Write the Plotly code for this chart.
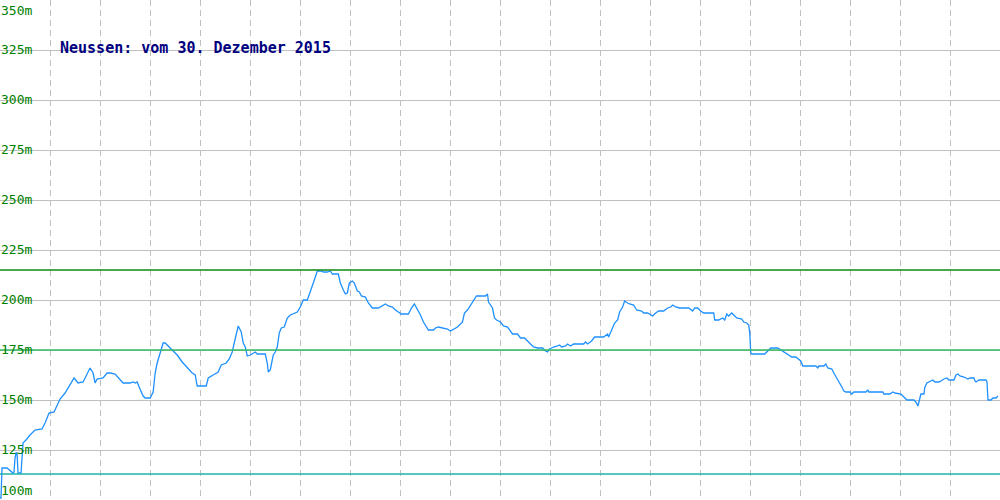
import plotly.graph_objects as go

# distance (chart units) and elevation (m)
dist = [0,1,2,7,13,14,15,16,17,18,21,22,23,26,30,35,42,45,49,54,57,60,65,68,72,74,78,83,86,90,93,95,97,103,107,110,115,118,123,130,133,135,137,139,143,145,150,153,155,157,160,163,165,172,177,182,187,192,195,197,206,208,213,218,221,226,229,232,234,236,238,241,243,245,247,250,255,257,265,267,268,270,273,275,277,279,281,284,287,290,295,297,300,303,307,310,313,317,321,323,327,330,332,338,340,343,345,347,349,352,354,357,359,361,365,368,372,378,382,385,388,392,395,398,401,408,411,414,417,420,423,426,428,433,435,438,442,447,450,453,457,462,464,467,470,473,476,485,487,488,492,494,496,500,503,507,510,512,517,520,524,527,530,533,537,542,545,547,549,553,557,559,561,565,567,570,573,583,585,587,591,594,603,607,608,612,614,617,619,622,624,627,629,633,636,641,643,647,652,655,658,663,667,670,672,675,679,688,692,694,697,700,703,713,714,718,722,724,726,728,731,733,736,741,743,746,748,749,750,751,764,767,770,777,780,784,787,791,795,800,802,815,817,818,823,825,827,831,833,836,838,841,843,845,849,851,853,865,867,868,882,883,889,892,894,900,903,906,913,915,917,918,920,923,924,926,928,932,934,938,940,943,946,948,953,955,957,959,963,965,967,969,973,974,975,978,985,986,987,990,992,995,997]
elev = [101,101,116,116,113.5,114,121,123.5,123.5,113.5,113.5,125,128.5,130,132.5,135,135.5,138.5,143.5,144,147,150.5,153.5,156,159.5,161,158.5,159,162,166,163.5,158.5,160.5,161,163.5,163.5,163,161.5,158.5,158.5,159,158.5,159,156.5,152,151,151,154,163.5,168.5,173.5,178.5,178.5,175,172.5,169,166,163.5,162.5,157,157,161,162.5,164,167.5,168.5,170.5,174,178.5,182.5,187,184,178.5,176.5,172,172.5,174,173,173,168.5,164,165,172.5,174,176.5,183.5,186,186.5,191,192.5,193.5,194,196.5,200,200,204,208.5,214.5,214.5,214,214,214.5,213,213,208.5,205,203,203.5,208.5,209.5,208.5,204.5,204,202,201.5,198.5,196,196,197,198,197,196.5,195,194,193,193,196,198,195.5,192.5,189,186.5,185,185,186,186.5,186,185.5,184.5,185.5,186.5,189,193.5,195,197.5,200,202,202,203,199,196,191,190,189,187,186.5,184,183,183,181,181,179.5,178,176.5,176,176,174.5,174,175.5,176.5,177,177.5,176.5,177,178,177,178,178,179,178,179.5,181.5,181.5,183,181.5,186.5,188.5,190,194,196.5,199.5,198.5,198,197.5,195,194.5,193.5,193.5,192,193.5,194.5,194.5,196,196.5,197.5,196.5,196,196,194.5,196,196,194.5,193.5,193.5,190,190,191,190,193,192,193.5,192.5,191,190.5,189,188.5,187.5,183.5,173.5,173,173,174.5,176,176,175,174,173,171.5,171.5,169.5,167,167,166,167,167,168,166,165.5,163.5,161,159.5,156.5,154.5,154,154,153,154,154,155,154,154,153,153,154,153.5,153,151.5,150,150,149,147,149.5,153,153,156.5,158.5,159,160,159,159,159.5,160.5,161,160,160,162.5,163,162,161.5,161,160.5,161,161,159.5,159,160,160,159,150,150,151,151,152]

# reference levels (m)
level_max = 215
level_mid = 175
level_min = 113

tick_vals = [100, 125, 150, 175, 200, 225, 250, 275, 300, 325, 350]
tick_text = ["100m", "125m", "150m", "175m", "200m", "225m", "250m", "275m", "300m", "325m", "350m"]
vgrid_vals = [50, 100, 150, 200, 250, 300, 350, 400, 450, 500, 550, 600, 650, 700, 750, 800, 850, 900, 950]

title_text = "Neussen: vom 30. Dezember 2015"

fig = go.Figure()
fig.add_trace(go.Scatter(x=dist, y=elev, mode="lines",
                         line=dict(color="#1e90ff", width=1.3), hoverinfo="skip",
                         showlegend=False))

for lvl, col in [(level_max, "#118811"), (level_mid, "#33bb66"), (level_min, "#20b2aa")]:
    fig.add_hline(y=lvl, line=dict(color=col, width=1.3), layer="above")

anns = []
for v, t in zip(tick_vals, tick_text):
    if v == 350:
        ya = "top"; yshift = -1
    elif v == 100:
        ya = "bottom"; yshift = 0
    else:
        ya = "middle"; yshift = 1
    anns.append(dict(x=0, xref="paper", y=v, yref="y", text=t, showarrow=False,
                     xanchor="left", yanchor=ya, yshift=yshift, xshift=-1,
                     font=dict(family="DejaVu Sans Mono", size=13, color="#008000")))
anns.append(dict(x=60, xref="x", y=325, yref="y", text="<b>" + title_text + "</b>",
                 showarrow=False, xanchor="left", yanchor="middle", yshift=2, xshift=-2,
                 font=dict(family="DejaVu Sans Mono", size=15, color="#000080")))

fig.update_layout(
    width=1000, height=500,
    margin=dict(l=0, r=0, t=0, b=0, pad=0, autoexpand=False),
    paper_bgcolor="white", plot_bgcolor="white",
    annotations=anns,
    xaxis=dict(range=[0, 999], tickvals=vgrid_vals, showticklabels=False,
               showgrid=True, gridcolor="#c0c0c0", griddash="6px,4px", gridwidth=1,
               zeroline=False, showline=True, linecolor="#c0c0c0", linewidth=2, mirror=True,
               fixedrange=True, automargin=False),
    yaxis=dict(range=[100, 350], tickvals=tick_vals, showticklabels=False,
               showgrid=True, gridcolor="#c0c0c0", gridwidth=1,
               zeroline=False, showline=True, linecolor="#c0c0c0", linewidth=2, mirror=True,
               fixedrange=True, automargin=False),
)

fig.write_html("out.html", config={"staticPlot": True},
               post_script="document.body.style.margin='0';document.body.style.overflow='hidden';")
